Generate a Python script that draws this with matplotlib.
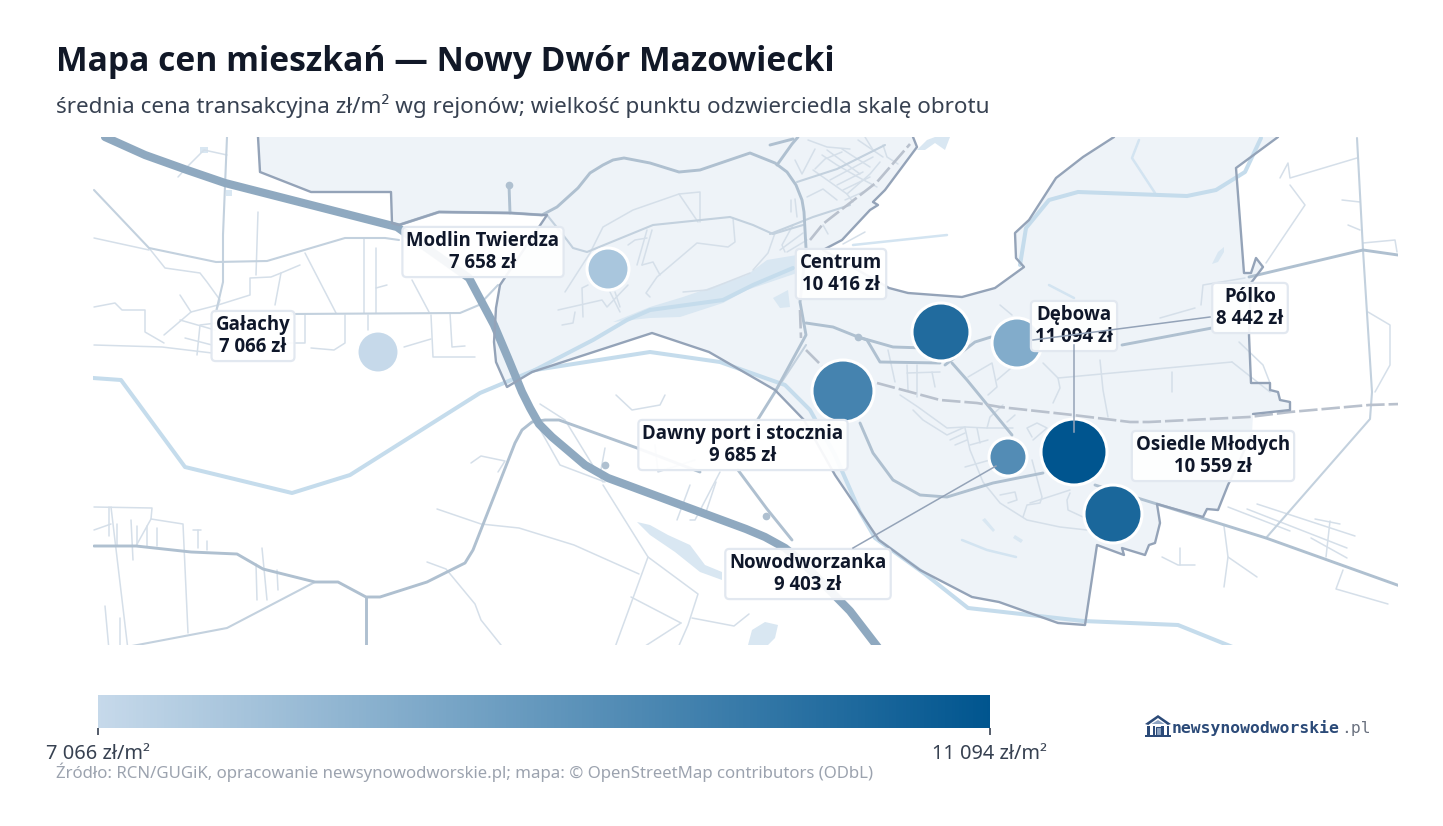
import matplotlib
matplotlib.use("Agg")
import matplotlib.pyplot as plt
from matplotlib.colors import LinearSegmentedColormap, Normalize
from matplotlib.cm import ScalarMappable
from matplotlib.patches import Polygon, Rectangle

plt.rcParams['font.family'] = ['Noto Sans', 'DejaVu Sans']
BOLD = ['Open Sans', 'DejaVu Sans']

W, H = 1443, 826

# ---- district data ----
districts = ["Gałachy", "Modlin Twierdza", "Centrum", "Dębowa", "Pólko",
             "Dawny port i stocznia", "Osiedle Młodych", "Nowodworzanka"]
prices = [7066, 7658, 10416, 11094, 8442, 9685, 10559, 9403]
price_labels = ["7 066 zł", "7 658 zł", "10 416 zł", "11 094 zł", "8 442 zł",
                "9 685 zł", "10 559 zł", "9 403 zł"]
point_x = [378, 608, 941, 1074, 1017, 843, 1113, 1008]
point_y = [352, 269, 332, 452, 343, 391, 514, 457]
point_radius = [21, 21, 29, 33, 25, 31, 29, 19]
label_x = [253, 483, 841, 1074, 1250, 743, 1213, 808]
label_y = [336, 252, 274, 326, 308, 445, 456, 574]
leaders = [[(1074, 345), (1074, 432)], [(1210, 317), (1033, 340)], [(853, 548), (996, 466)]]

# ---- map geometry (map pixel grid) ----
city_area = [(258,137),(260,172),(311,192),(391,192),(392,223),(399,225),(439,212),(511,213),(542,215),(547,215),
             (500,285),(496,308),(494,342),(496,362),(507,387),(532,372),(652,333),(709,352),(775,390),(804,420),
             (835,475),(879,540),(920,570),(972,597),(999,602),(1058,623),(1085,625),(1097,545),(1124,555),(1122,548),
             (1145,555),(1149,545),(1155,543),(1160,523),(1157,504),(1203,517),(1207,509),(1218,510),(1228,485),(1252,434),
             (1253,414),(1290,410),(1290,402),(1280,400),(1278,392),(1270,390),(1270,383),(1251,383),(1249,335),(1251,283),
             (1263,267),(1256,258),(1251,273),(1244,273),(1236,168),(1278,137),(1114,137),(1083,157),(1056,178),(1029,220),
             (1015,233),(1016,258),(1024,267),(995,288),(962,297),(908,293),(889,288),(823,250),(842,240),(870,210),
             (878,205),(873,202),(885,190),(917,147),(913,137)]
ponds = [[(613,322),(650,307),(683,297),(747,275),(767,260),(797,255),(797,273),(747,290),(723,303),(680,317),(650,318)],
         [(773,298),(788,290),(790,307),(780,308)],
         [(637,522),(650,525),(668,535),(690,545),(705,565),(722,572),(722,580),(700,572),(675,552),(650,535)],
         [(748,645),(752,630),(765,622),(778,625),(775,638),(768,645)],
         [(1224,247),(1218,252),(1212,264),(1218,262),(1224,252)],
         [(982,520),(993,532),(995,530),(985,518)],[(1015,535),(1023,540),(1021,543),(1013,538)],
         [(917,150),(927,140),(935,137),(950,137),(945,150),(935,143),(925,150)],
         [(200,147),(208,147),(208,153),(200,153)],[(226,190),(232,190),(232,196),(226,196)]]
rivers = [[(93,378),(121,380),(185,467),(292,493),(350,475),(480,393),(535,370),(650,352),(720,362),(785,385),(810,410),
           (835,455),(860,512),(875,538),(925,574),(968,608),(1083,621),(1178,625),(1240,650)],
          [(1020,265),(1026,228),(1049,200),(1078,192),(1187,196),(1216,190),(1245,172),(1261,138)],
          [(535,370),(593,340),(627,320),(650,310),(723,300),(753,285),(793,268)]]
thin_rivers = [[(1155,193),(1132,158),(1139,140)],[(853,245),(900,240),(947,235)],
               [(962,540),(987,550),(1016,557)],[(1049,285),(1074,298)]]
highway = [(105,137),(145,155),(187,170),(225,183),(397,227),(469,278),(494,325),(508,358),(522,392),(530,408),(539,424),
           (552,437),(565,448),(585,465),(608,478),(746,529),(765,537),(785,548),(800,560),(850,611),(880,650)]
main_roads = [[(399,225),(439,212),(511,213),(542,215),(557,207),(578,188),(590,173),(603,165),(613,160),(624,158),(650,163),
               (679,172),(700,170),(750,153),(775,163),(787,172),(796,185),(802,200),(804,212),(806,248),(800,302),(806,335),
               (775,392),(745,440)],
              [(777,165),(792,144),(798,137)],[(770,145),(793,139)],
              [(806,323),(833,327),(858,337),(867,340),(880,362),(940,363)],
              [(858,337),(893,347),(925,348)],[(945,365),(975,342),(991,337)],
              [(1122,345),(1212,328)],[(1249,277),(1363,250),(1398,255)],
              [(952,363),(967,380),(1012,435)],[(1095,485),(1157,504),(1266,538),(1400,586)],
              [(860,423),(873,453),(893,480),(920,495),(947,497),(993,483),(1043,473)],
              [(509,185),(510,213)],
              [(94,546),(136,546),(191,552),(237,554),(263,569),(315,582),(338,582),(366,597),(380,597),(427,582),(465,563),
               (473,550),(515,443),(522,430),(532,422),(545,420),(559,420),(637,448),(700,472)],
              [(366,597),(366,650)],[(738,470),(767,509),(792,540)]]
road_dots = [(509, 185), (605, 465), (766, 516), (858, 337)]
secondary_roads = [[(94,190),(149,248),(216,262),(267,261),(345,238),(385,238),(399,240)],
                   [(227,137),(223,235),(223,282),(216,312)],
                   [(292,314),(460,313),(479,305),(498,285)],
                   [(315,582),(227,628),(111,650)],
                   [(547,215),(567,240),(573,248),(587,252),(653,225),(730,217),(753,225),(773,234),(803,225)],
                   [(1357,138),(1363,250),(1372,392),(1370,419),(1266,538)],
                   [(770,234),(793,225),(813,217),(850,205)],
                   [(797,182),(837,169),(885,145)],
                   [(806,345),(775,392)]]
minor_roads = [[(94,238),(149,250)],[(149,248),(165,268),(200,273),(207,282),(220,300),(216,312)],
               [(94,307),(115,303),(122,310),(145,310),(145,332),(164,343)],[(94,345),(162,347),(212,353)],
               [(164,335),(191,312),(180,295)],[(191,312),(218,305),(250,295),(250,278),(271,277),(281,273),(300,265)],
               [(281,273),(275,305)],[(258,212),(256,275)],[(305,253),(336,313)],[(364,238),(364,313)],
               [(376,248),(376,313)],[(376,288),(387,285)],[(412,280),(429,312)],[(431,315),(433,357),(475,357)],
               [(450,313),(452,347),(465,346)],[(368,315),(368,330)],[(404,347),(431,339)],
               [(305,315),(305,343),(281,343)],[(345,315),(345,343),(334,350),(311,348)],
               [(227,155),(204,150),(189,165),(178,177)],[(180,320),(215,330)],[(185,338),(212,345)],[(197,355),(200,325),(225,322)],
               [(733,218),(735,242),(728,247),(697,243),(657,277),(646,293),(650,297)],[(683,292),(707,290),(750,273)],
               [(565,292),(590,253),(603,227),(633,210),(679,194),(700,192),(700,222)],[(679,194),(698,222)],
               [(558,310),(602,300),(607,307),(628,285)],[(575,312),(573,323),(562,325)],[(583,317),(582,288),(588,285)],
               [(642,265),(653,262),(660,275)],[(637,265),(647,230)],[(642,265),(652,230)],[(628,245),(635,240),(647,238)],
               [(610,292),(620,312)],[(615,292),(620,307)],[(775,233),(768,253),(753,270)],[(780,250),(803,233)],[(787,252),(807,240)],
               [(813,170),(847,194),(853,202)],[(822,155),(837,165),(858,177),(877,187)],[(827,150),(860,174)],
               [(842,149),(870,167)],[(858,140),(883,157)],[(883,145),(887,157),(898,164)],[(847,194),(870,174),(880,162)],
               [(830,180),(858,165),(873,157)],[(837,185),(863,172)],[(843,190),(870,177)],[(807,197),(823,189),(837,200)],
               [(795,160),(802,174),(815,149)],[(815,169),(825,159),(842,152)],[(808,140),(827,147),(850,149)],
               [(865,137),(873,150)],[(845,200),(863,192)],[(793,225),(782,245),(785,252)],[(795,199),(797,217)],
               [(791,200),(791,212)],[(823,225),(828,234)],[(843,244),(865,232)],
               [(888,350),(895,382)],[(907,365),(908,390)],[(917,365),(917,397)],[(913,410),(923,420),(947,435),(965,427)],
               [(932,372),(935,387)],[(907,373),(940,372)],[(900,395),(918,407),(947,428),(965,427),(987,428),(1013,428)],
               [(965,428),(970,450),(983,482),(1000,503),(1027,520),(1060,527),(1087,530)],[(970,445),(988,440)],
               [(977,428),(980,443)],[(965,467),(990,460)],[(950,440),(965,433)],[(955,445),(967,440)],
               [(987,428),(990,417),(1003,405)],[(1007,422),(1015,415)],[(968,377),(992,363),(997,387),(988,395)],
               [(997,380),(1017,363)],[(1032,437),(1027,428),(1037,423),(1047,428),(1033,440)],
               [(1032,460),(1042,497),(1040,503),(1027,505),(1023,517)],[(1000,495),(1015,492),(1017,500),(1008,503)],
               [(1043,363),(1058,378),(1060,388),(1053,403)],[(1058,378),(1232,362)],[(1100,360),(1103,390),(1108,417)],
               [(1070,493),(1067,500),(1068,510),(1083,517)],[(1030,503),(1070,490)],[(1172,372),(1172,392)],
               [(1000,305),(1012,315)],[(1232,362),(1270,392)],[(1201,305),(1203,285),(1245,278)],
               [(1160,318),(1195,308)],[(1239,342),(1263,365),(1270,383)],
               [(1228,507),(1290,531)],[(1247,509),(1347,548)],[(1257,504),(1355,536)],[(1315,519),(1340,524)],
               [(1330,521),(1326,557)],[(1311,538),(1347,558)],[(1224,526),(1228,557),(1257,577)],[(1228,557),(1224,587)],
               [(1343,570),(1336,589),(1388,604)],[(1162,557),(1178,565),(1195,565)],[(1180,548),(1180,565)],
               [(1280,178),(1288,163),(1290,178),(1357,158)],[(1290,185),(1305,205),(1278,245),(1266,263)],
               [(1342,200),(1360,202)],[(1348,225),(1360,230)],[(1363,243),(1395,240),(1397,252)],
               [(1368,312),(1390,325),(1390,365),(1375,392)],
               [(427,562),(446,569),(475,604),(481,620),(505,650)],[(437,509),(481,524),(519,528),(574,545),(639,574)],
               [(648,557),(614,650)],[(603,485),(648,557),(698,594),(688,625),(677,650)],[(631,597),(681,623)],
               [(681,623),(639,650)],[(692,618),(734,626),(749,614)],[(471,463),(481,456),(505,461),(498,472)],
               [(94,507),(152,508),(151,519),(183,524),(188,633)],[(111,507),(128,650)],[(94,530),(111,524)],[(151,519),(136,546)],
               [(109,507),(109,536)],[(117,524),(117,546)],[(131,520),(133,560)],[(137,526),(137,546)],[(147,526),(147,546)],
               [(157,528),(157,546)],[(105,606),(109,650)],[(120,618),(120,650)],[(193,530),(201,530)],[(198,530),(198,548)],
               [(207,541),(207,550)],[(262,548),(267,600)],[(256,564),(257,600)],[(277,570),(278,590)],
               [(540,404),(565,420),(603,482)],[(537,424),(560,465),(605,482)],[(605,448),(600,475)],
               [(655,445),(658,472),(695,460)],[(690,485),(677,520)],[(720,472),(695,520),(690,520)],[(716,482),(705,515)],
               [(616,395),(632,410),(660,405),(665,395)],[(1155,440),(1170,450)]]
rail_dashed = [[(877,383),(940,400),(977,403),(1000,407),(1073,415),(1130,422),(1149,422),(1249,417),(1290,412),(1369,405),(1400,404)],
               [(810,240),(823,224),(828,220),(877,182),(910,144)],[(800,310),(801,338)],[(806,350),(822,366)]]

# ---- colour scale ----
cmap_colors = ["#c6d9ea", "#00558f"]
scale_ticks = [7066, 11094]
scale_labels = ["7 066 zł/m²", "11 094 zł/m²"]

title = "Mapa cen mieszkań — Nowy Dwór Mazowiecki"
subtitle = "średnia cena transakcyjna zł/m² wg rejonów; wielkość punktu odzwierciedla skalę obrotu"
source = "Źródło: RCN/GUGiK, opracowanie newsynowodworskie.pl; mapa: © OpenStreetMap contributors (ODbL)"

cmap = LinearSegmentedColormap.from_list("price", cmap_colors)
norm = Normalize(min(scale_ticks), max(scale_ticks))

fig = plt.figure(figsize=(W / 100, H / 100), dpi=100, facecolor="white")


def fx(x):
    return x / W


def fy(y):
    return 1 - y / H


ax = fig.add_axes([fx(93), fy(645), 1305 / W, 508 / H])
ax.set_xlim(93, 1398)
ax.set_ylim(645, 137)
ax.axis("off")


def draw(lines, color, lw, z, **kw):
    for pts in lines:
        ax.plot([p[0] for p in pts], [p[1] for p in pts], color=color, lw=lw, zorder=z,
                solid_capstyle="round", solid_joinstyle="round", **kw)


ax.add_patch(Polygon(city_area, closed=True, facecolor="#eef3f8", edgecolor="none", zorder=1))
for pond in ponds:
    ax.add_patch(Polygon(pond, closed=True, facecolor="#d9e7f2", edgecolor="none", zorder=1.5))
draw(minor_roads, "#d5dfe9", 1.1, 2)
draw(thin_rivers, "#d3e4f1", 1.8, 2.2)
draw(secondary_roads, "#c3d1de", 1.5, 2.5)
draw(rivers, "#c5dcec", 2.9, 3)
draw(main_roads, "#afc0d0", 2.1, 3.5)
ax.plot([p[0] for p in road_dots], [p[1] for p in road_dots], ls="none", marker="o", ms=4.5, color="#afc0d0", zorder=3.5)
draw([highway], "#8fa9c0", 5.9, 4)
for pts in rail_dashed:
    ax.plot([p[0] for p in pts], [p[1] for p in pts], color="#b9c1cd", lw=1.9, zorder=4.2, ls=(0, (7, 1.5)))
draw([city_area[:40]], "#94a3b8", 1.7, 4.5)
draw([city_area[40:56]], "#94a3b8", 1.7, 4.5)
draw([city_area[56:]], "#94a3b8", 1.7, 4.5)

sizes = [(2 * r * 0.72) ** 2 for r in point_radius]
ax.scatter(point_x, point_y, s=sizes, c=prices, cmap=cmap, norm=norm,
           edgecolors="white", linewidths=2.2, zorder=6)

for name, lab, x, y in zip(districts, price_labels, label_x, label_y):
    ax.text(x, y, f"{name}\n{lab}", ha="center", va="center", fontsize=13.4, fontweight="bold", family=BOLD,
            color="#0f172a", linespacing=1.13, zorder=7,
            bbox=dict(boxstyle="round,pad=0.22", facecolor=(1, 1, 1, 0.92), edgecolor="#e2e8f0", linewidth=1.6))
for pts in leaders:
    ax.plot([p[0] for p in pts], [p[1] for p in pts], color="#94a3b8", lw=1.1, zorder=8)

fig.text(fx(56), fy(62), title, fontsize=24.25, fontweight="bold", family=BOLD, color="#111827", va="center", ha="left")
fig.text(fx(56), fy(106), subtitle, fontsize=16.15, color="#374151", va="center", ha="left")
fig.text(fx(56), fy(772), source, fontsize=12.1, color="#9ca3af", va="center", ha="left")

cax = fig.add_axes([fx(98), fy(728), 892 / W, 33 / H])
cb = fig.colorbar(ScalarMappable(norm=norm, cmap=cmap), cax=cax, orientation="horizontal", ticks=scale_ticks)
cb.outline.set_visible(False)
cb.ax.set_xticklabels(scale_labels, fontsize=14.4, color="#374151")
cb.ax.tick_params(axis="x", length=5, width=1.2, color="#374151", pad=6.5)

# logo
logo = fig.add_axes([fx(1145), fy(738), 26 / W, 24 / H])
logo.set_xlim(0, 24)
logo.set_ylim(24, 0)
logo.axis("off")
logo_navy = "#2b4a78"
logo.add_patch(Polygon([(0, 10), (12, 1), (24, 10), (21, 11), (12, 4), (3, 11)], closed=True, fc=logo_navy, ec="none"))
logo.add_patch(Polygon([(6, 10), (12, 6), (18, 10)], closed=True, fc="#8ea4c2", ec="none"))
for x0 in (2, 7, 15, 20):
    logo.add_patch(Rectangle((x0, 12), 2.4, 9, fc=logo_navy, ec="none"))
logo.add_patch(Rectangle((10, 13), 4.5, 8, fc="#8ea4c2", ec=logo_navy, lw=0.8))
logo.add_patch(Rectangle((0, 21), 24, 2.4, fc=logo_navy, ec="none"))
fig.text(fx(1172), fy(728), "newsynowodworskie", fontsize=11.8, family="DejaVu Sans Mono", fontweight="bold",
         color="#2b4a78", va="center", ha="left")
fig.text(fx(1341), fy(728), ".pl", fontsize=11.8, family="DejaVu Sans Mono", color="#6b7280", va="center", ha="left")

fig.savefig("out.png", dpi=100, facecolor="white")
